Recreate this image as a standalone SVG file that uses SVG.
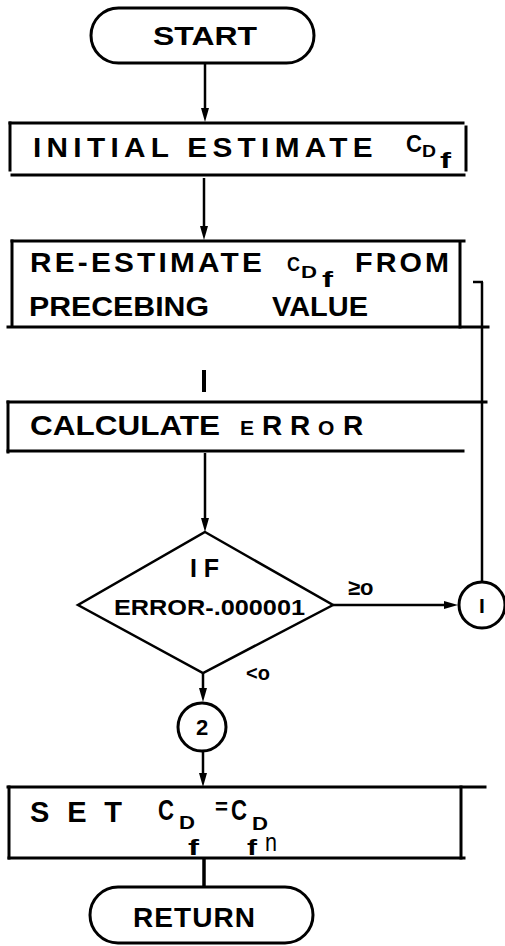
<svg xmlns="http://www.w3.org/2000/svg" width="505" height="946" viewBox="0 0 505 946">
<style>
.ln{stroke:#000;stroke-width:3;fill:none;stroke-linecap:square}
.cn{stroke:#000;stroke-width:2.5;fill:none}
.ah{fill:#000}
.t{font-family:"Liberation Sans",Arial,sans-serif;font-weight:bold;fill:#000}
</style>
<rect width="505" height="946" fill="#fff"/>

<g id="connectors">
<line class="cn" x1="205" y1="64" x2="205" y2="112"/>
<path class="ah" d="M201,108 L209,108 L205,122 Z"/>
<line class="cn" x1="204" y1="178" x2="204" y2="230"/>
<path class="ah" d="M200,226 L208,226 L204,240 Z"/>
<line x1="204" y1="370" x2="204" y2="392" stroke="#000" stroke-width="4"/>
<line class="cn" x1="205" y1="453" x2="205" y2="522"/>
<path class="ah" d="M201,518 L209,518 L205,532 Z"/>
<line class="cn" x1="333" y1="605" x2="448" y2="605"/>
<path class="ah" d="M444,601 L458,605 L444,609 Z"/>
<line class="cn" x1="482" y1="282" x2="482" y2="582"/>
<line class="cn" x1="473" y1="282" x2="483" y2="282"/>
<line class="cn" x1="203" y1="673" x2="203" y2="692"/>
<path class="ah" d="M199,688 L207,688 L203,702 Z"/>
<line class="cn" x1="203" y1="751" x2="203" y2="777"/>
<path class="ah" d="M199,773 L207,773 L203,787 Z"/>
<line x1="204" y1="859" x2="204" y2="887" stroke="#000" stroke-width="3.5"/>
</g>

<g id="start">
<rect x="91" y="8" width="223" height="55" rx="27.5" class="ln"/>
<text class="t" x="153" y="45" font-size="26" textLength="104" lengthAdjust="spacingAndGlyphs">START</text>
</g>

<g id="initial">
<line class="ln" x1="10" y1="123" x2="463" y2="123"/>
<line class="ln" x1="10" y1="123" x2="10" y2="170"/>
<line class="ln" x1="466" y1="127" x2="466" y2="170"/>
<line class="ln" x1="12" y1="175" x2="464" y2="175"/>
<text class="t" x="33" y="157" font-size="28" letter-spacing="5" textLength="345" lengthAdjust="spacingAndGlyphs">INITIAL ESTIMATE</text>
<text class="t" x="406" y="152" font-size="24" textLength="16" lengthAdjust="spacingAndGlyphs">C</text>
<text class="t" x="422" y="157" font-size="16" textLength="14" lengthAdjust="spacingAndGlyphs">D</text>
<text class="t" x="440" y="168" font-size="22" textLength="11" lengthAdjust="spacingAndGlyphs">f</text>
</g>

<g id="reestimate">
<line class="ln" x1="12" y1="241" x2="464" y2="241"/>
<line class="ln" x1="12" y1="241" x2="12" y2="326"/>
<line class="ln" x1="460" y1="243" x2="460" y2="327"/>
<line class="ln" x1="8" y1="327" x2="488" y2="327"/>
<text class="t" x="30" y="272" font-size="28" letter-spacing="3" textLength="235" lengthAdjust="spacingAndGlyphs">RE-ESTIMATE</text>
<text class="t" x="287" y="271" font-size="20" textLength="13" lengthAdjust="spacingAndGlyphs">C</text>
<text class="t" x="301" y="278" font-size="17" textLength="16" lengthAdjust="spacingAndGlyphs">D</text>
<text class="t" x="322" y="287" font-size="22" textLength="11" lengthAdjust="spacingAndGlyphs">f</text>
<text class="t" x="355" y="272" font-size="28" letter-spacing="3" textLength="97" lengthAdjust="spacingAndGlyphs">FROM</text>
<text class="t" x="29" y="316" font-size="27" textLength="180" lengthAdjust="spacingAndGlyphs">PRECEBING</text>
<text class="t" x="272" y="316" font-size="27" textLength="96" lengthAdjust="spacingAndGlyphs">VALUE</text>
</g>

<g id="calculate">
<line class="ln" x1="8" y1="402" x2="486" y2="402"/>
<line class="ln" x1="8" y1="402" x2="8" y2="452"/>
<line class="ln" x1="8" y1="451" x2="463" y2="451"/>
<text class="t" x="30" y="435" font-size="27" textLength="190" lengthAdjust="spacingAndGlyphs">CALCULATE</text>
<text class="t" y="435"><tspan x="240" font-size="21">E</tspan><tspan x="262" font-size="28">R</tspan><tspan x="290" font-size="28">R</tspan><tspan x="318" font-size="21">O</tspan><tspan x="343" font-size="28">R</tspan></text>
</g>

<g id="decision">
<polygon points="205,532 333,605 203,673 78,605" class="cn" stroke-width="3"/>
<text class="t" x="190" y="577" font-size="25" textLength="29" lengthAdjust="spacing">IF</text>
<text class="t" x="114" y="615" font-size="22" textLength="191" lengthAdjust="spacingAndGlyphs">ERROR-.000001</text>
<text class="t" x="348" y="595" font-size="22">≥o</text>
<text class="t" x="246" y="680" font-size="20">&lt;o</text>
</g>

<g id="conn1">
<circle cx="482" cy="605" r="23" class="ln"/>
<text class="t" x="482" y="613" font-size="21" text-anchor="middle">I</text>
</g>

<g id="conn2">
<circle cx="202" cy="727" r="24" class="ln"/>
<text class="t" x="202" y="735" font-size="22" text-anchor="middle">2</text>
</g>

<g id="set">
<line class="ln" x1="8" y1="787" x2="485" y2="787"/>
<line class="ln" x1="9" y1="787" x2="9" y2="858"/>
<line class="ln" x1="461" y1="787" x2="461" y2="858"/>
<line class="ln" x1="9" y1="858" x2="464" y2="858"/>
<text class="t" x="30" y="822" font-size="29" textLength="92" lengthAdjust="spacing">S E T</text>
<text class="t" x="158" y="820" font-size="29" textLength="16" lengthAdjust="spacingAndGlyphs">C</text>
<text class="t" x="179" y="829" font-size="19" textLength="16" lengthAdjust="spacingAndGlyphs">D</text>
<text class="t" x="188" y="855" font-size="22" textLength="11" lengthAdjust="spacingAndGlyphs">f</text>
<text class="t" x="215" y="814" font-size="22" textLength="13" lengthAdjust="spacingAndGlyphs">=</text>
<text class="t" x="231" y="820" font-size="29" textLength="16" lengthAdjust="spacingAndGlyphs">C</text>
<text class="t" x="252" y="830" font-size="19" textLength="16" lengthAdjust="spacingAndGlyphs">D</text>
<text class="t" x="247" y="855" font-size="22" textLength="10" lengthAdjust="spacingAndGlyphs">f</text>
<text x="265" y="851" font-size="26" font-family="Liberation Sans, Arial, sans-serif" textLength="12" lengthAdjust="spacingAndGlyphs">n</text>
</g>

<g id="return">
<rect x="90" y="887" width="223" height="56" rx="28" class="ln"/>
<text class="t" x="133" y="927" font-size="28" textLength="122" lengthAdjust="spacing">RETURN</text>
</g>
</svg>
